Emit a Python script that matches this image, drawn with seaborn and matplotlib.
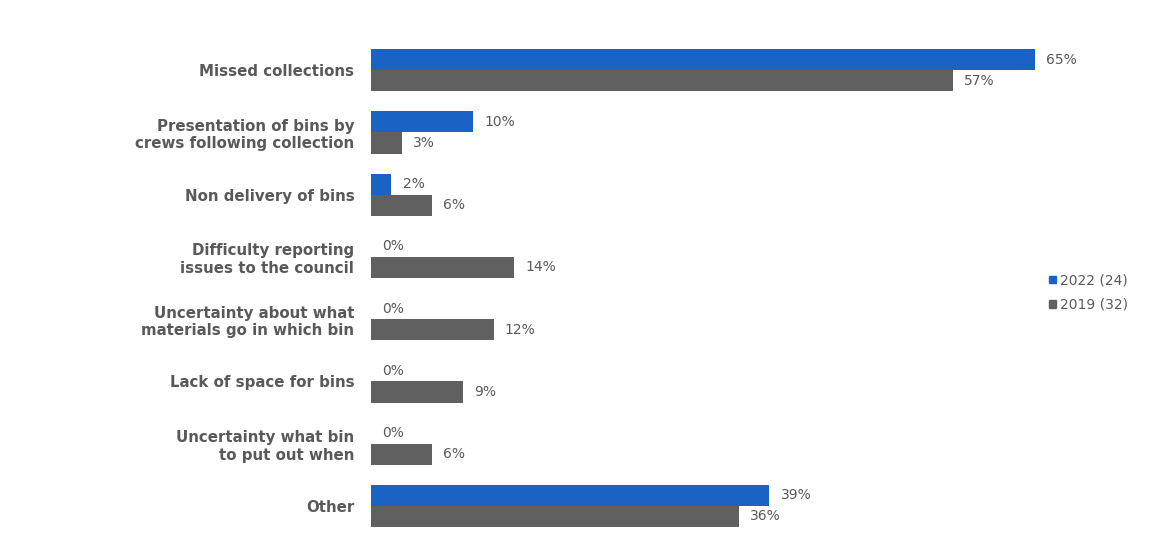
import matplotlib
matplotlib.use("Agg")
import matplotlib.pyplot as plt
import seaborn as sns
import pandas as pd
from matplotlib.patches import Patch

categories = [
    "Missed collections",
    "Presentation of bins by\ncrews following collection",
    "Non delivery of bins",
    "Difficulty reporting\nissues to the council",
    "Uncertainty about what\nmaterials go in which bin",
    "Lack of space for bins",
    "Uncertainty what bin\nto put out when",
    "Other",
]
series_names = ["2022 (24)", "2019 (32)"]
values_2022 = [65, 10, 2, 0, 0, 0, 0, 39]
values_2019 = [57, 3, 6, 14, 12, 9, 6, 36]

df = pd.DataFrame({
    "category": categories * 2,
    "value": values_2022 + values_2019,
    "series": [series_names[0]] * len(categories) + [series_names[1]] * len(categories),
})

sns.set_theme(style="white")
plt.rcParams["font.family"] = ["DejaVu Sans"]

text_color = "#595959"
palette = {series_names[0]: "#1a62c4", series_names[1]: "#606060"}

fig = plt.figure(figsize=(11.58, 5.5), dpi=100)
ax = fig.add_axes([0.3204, 0.0236, 0.8938 - 0.3204, 0.929 - 0.0236])

sns.barplot(data=df, y="category", x="value", hue="series", order=categories,
            hue_order=series_names, palette=palette, orient="h", width=0.68,
            saturation=1, linewidth=0, legend=False, ax=ax)

ax.set_xlim(0, 65)
ax.set_ylim(len(categories) - 0.5, -0.5)
ax.set_xlabel("")
ax.set_ylabel("")
ax.set_xticks([])
for s in ax.spines.values():
    s.set_visible(False)
ax.tick_params(axis="y", length=0, pad=12)
for lbl in ax.get_yticklabels():
    lbl.set_fontweight("bold")
    lbl.set_fontsize(10.8)
    lbl.set_color(text_color)
    lbl.set_multialignment("right")

for cont in ax.containers:
    ax.bar_label(cont, labels=[f"{v:.0f}%" for v in cont.datavalues],
                 padding=8, fontsize=10, color=text_color)

handles = [Patch(color=palette[n]) for n in series_names]
fig.legend(handles, series_names, loc="center left", bbox_to_anchor=(0.895, 0.468),
           frameon=False, handlelength=0.5, handleheight=0.5, handletextpad=0.3,
           labelspacing=0.75, fontsize=10, labelcolor=text_color)

fig.savefig("out.png", dpi=100)
